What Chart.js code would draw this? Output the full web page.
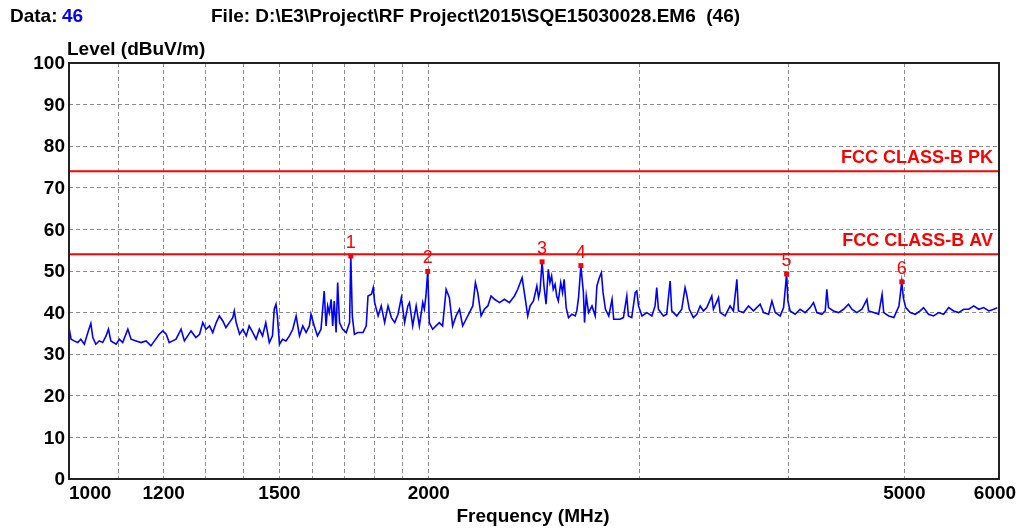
<!DOCTYPE html>
<html>
<head>
<meta charset="utf-8">
<script src="https://cdn.jsdelivr.net/npm/chart.js@4.4.1/dist/chart.umd.min.js"></script>
<style>
  body { margin: 0; background: #fff; }
  #wrap { width: 1019px; height: 529px; }
</style>
</head>
<body>
<div id="wrap"><canvas id="emc-chart" width="1019" height="529"></canvas></div>
<script>
// scan trace (MHz / dBuV/m)
var freq = [1000,1004,1010,1017,1023,1030,1037,1043,1047,1053,1060,1067,1074,1079,1084,1095,1102,1109,1120,1127,
  1138,1149,1160,1171,1179,1190,1198,1206,1213,1221,1229,1241,1249,1257,1265,1277,1286,1294,1302,1311,
  1319,1328,1336,1345,1353,1362,1371,1375,1380,1389,1398,1407,1415,1425,1434,1443,1452,1461,1471,1480,
  1485,1490,1494,1500,1509,1519,1529,1539,1549,1559,1569,1579,1589,1594,1604,1614,1625,1635,1641,1646,
  1651,1657,1662,1667,1673,1678,1684,1694,1706,1717,1721,1726,1733,1745,1762,1773,1779,1791,1797,1802,
  1814,1825,1837,1849,1861,1873,1885,1897,1909,1921,1927,1939,1952,1964,1977,1983,1989,1996,2002,2015,
  2028,2041,2054,2068,2081,2094,2108,2122,2135,2149,2163,2177,2188,2198,2212,2226,2241,2255,2270,2292,
  2314,2336,2359,2374,2394,2409,2420,2431,2447,2463,2471,2478,2488,2497,2507,2518,2526,2534,2542,2551,
  2559,2567,2579,2588,2596,2606,2618,2635,2652,2660,2669,2681,2686,2694,2700,2709,2721,2739,2756,2765,
  2778,2789,2798,2811,2829,2847,2856,2875,2891,2910,2929,2938,2957,2977,2986,2996,3016,3045,3074,3093,
  3103,3113,3143,3163,3184,3194,3225,3256,3277,3287,3304,3330,3352,3374,3395,3417,3450,3461,3495,3506,
  3540,3574,3597,3621,3632,3667,3703,3739,3787,3812,3849,3874,3899,3936,3962,3985,3995,4012,4051,4090,
  4130,4170,4197,4224,4265,4293,4306,4320,4362,4404,4447,4490,4519,4563,4607,4652,4667,4713,4758,4790,
  4805,4852,4900,4948,4975,4990,5013,5057,5106,5155,5188,5238,5289,5341,5393,5445,5498,5551,5605,5660,
  5715,5770,5826,5883,5940,5980];
var level = [36.4,33.6,33.2,32.8,33.6,32.4,35.2,37.4,34.0,32.4,33.2,32.8,34.4,36.0,33.2,32.4,33.6,32.8,36.0,33.6,
  33.2,32.8,33.2,32.0,33.2,34.8,35.6,34.8,32.8,33.2,33.6,36.0,33.2,34.4,35.6,34.0,34.8,37.6,36.0,36.8,
  35.2,37.6,39.2,38.0,36.4,37.6,38.8,40.4,37.6,34.8,36.0,34.4,36.8,35.2,33.6,36.0,34.4,37.6,32.8,34.4,
  40.8,42.0,39.2,32.4,33.6,33.2,34.4,36.0,39.2,34.4,36.8,35.2,36.8,39.6,36.8,34.4,36.0,45.2,36.8,41.6,
  40.0,43.2,36.8,42.8,35.2,47.2,37.6,36.0,35.2,37.6,53.6,39.2,34.8,35.2,35.2,36.8,44.0,44.4,46.0,42.4,
  39.2,41.6,37.6,41.6,38.8,37.6,39.6,43.6,37.6,41.6,42.4,36.8,41.6,36.8,42.4,40.8,44.0,49.9,37.6,36.0,
  36.8,37.6,36.8,45.6,43.6,36.8,39.2,40.8,36.8,38.4,40.0,41.6,47.2,44.8,39.2,40.8,41.6,44.0,43.2,42.4,
  43.2,42.4,44.0,45.6,48.4,43.2,39.2,41.6,42.8,46.4,43.6,45.2,52.2,46.4,42.0,50.4,47.2,48.8,45.6,46.8,
  44.0,42.8,47.2,44.8,48.0,41.2,38.8,39.6,39.2,40.4,43.6,51.3,48.8,44.8,37.6,44.0,40.0,41.6,39.2,46.4,
  48.4,49.6,44.8,40.8,39.2,43.2,38.4,38.4,38.4,38.8,44.0,39.2,38.8,44.8,45.2,41.6,39.2,40.0,39.2,41.6,
  46.0,40.8,39.2,39.6,47.6,40.4,39.2,40.8,46.0,44.4,40.8,38.8,39.6,41.6,40.4,41.2,44.0,40.8,43.6,40.0,
  39.2,41.6,40.4,48.0,40.4,40.0,41.6,40.4,42.0,40.0,39.6,42.8,40.0,39.2,41.2,49.3,42.8,40.4,39.6,40.8,
  40.0,41.2,42.4,40.0,39.6,40.4,45.6,41.2,40.4,40.0,40.8,42.0,40.8,40.0,40.8,43.2,40.4,40.0,39.6,44.4,
  40.0,39.2,38.8,41.6,47.4,43.6,41.2,40.0,39.6,40.4,41.2,39.6,39.2,40.0,39.6,41.2,40.4,40.0,40.8,40.8,
  41.6,40.8,41.2,40.4,40.8,41.2];

// limit lines
var limitFreq = [1000, 6000];
var pkLimit = [74, 74];
var avLimit = [54, 54];

// marked peaks
var markerFreq = [1721, 1996, 2488, 2681, 3985, 4975];
var markerLevel = [53.6, 49.9, 52.2, 51.3, 49.3, 47.4];
var markerNo = ["1", "2", "3", "4", "5", "6"];

// axes
var gridFreq = [1000,1100,1200,1300,1400,1500,1600,1700,1800,1900,2000,3000,4000,5000,6000];
var freqLabels = [1000, 1200, 1500, 2000, 5000, 6000];
var levelTicks = [0,10,20,30,40,50,60,70,80,90,100];

function pairs(xs, ys) {
  return xs.map(function (x, i) { return { x: x, y: ys[i] }; });
}

var FONT = '"Liberation Sans", Arial, sans-serif';

var decorations = {
  id: 'decorations',
  afterDraw: function (chart) {
    var ctx = chart.ctx, a = chart.chartArea;
    var xs = chart.scales.x, ys = chart.scales.y;
    ctx.save();

    // frame
    ctx.strokeStyle = '#222';
    ctx.lineWidth = 2;
    ctx.strokeRect(a.left, a.top, a.right - a.left, a.bottom - a.top);

    // y tick labels
    ctx.fillStyle = '#000';
    ctx.font = 'bold 19px ' + FONT;
    ctx.textAlign = 'right';
    ctx.textBaseline = 'middle';
    levelTicks.forEach(function (v) {
      ctx.fillText(String(v), a.left - 4, ys.getPixelForValue(v) + 1);
    });

    // x tick labels
    freqLabels.forEach(function (f, i) {
      var px = xs.getPixelForValue(f);
      if (i === 0) { ctx.textAlign = 'left'; px = a.left; }
      else { ctx.textAlign = 'center'; }
      if (i === freqLabels.length - 1) px -= 4;
      ctx.fillText(String(f), px, a.bottom + 15);
    });

    // axis titles
    ctx.textAlign = 'left';
    ctx.fillText('Level (dBuV/m)', 67, 50);
    ctx.textAlign = 'center';
    ctx.fillText('Frequency (MHz)', 533, 517);

    // header
    ctx.textAlign = 'left';
    ctx.fillText('Data:', 10, 17);
    ctx.fillStyle = '#0000ff';
    ctx.fillText('46', 62, 17);
    ctx.fillStyle = '#000';
    ctx.fillText('File: D:\\E3\\Project\\RF Project\\2015\\SQE15030028.EM6  (46)', 211, 17);

    // limit names
    ctx.font = 'bold 18px ' + FONT;
    ctx.fillStyle = '#ff0000';
    ctx.textAlign = 'right';
    ctx.textBaseline = 'bottom';
    ctx.fillText('FCC CLASS-B PK', a.right - 6, ys.getPixelForValue(pkLimit[1]) - 4);
    ctx.fillText('FCC CLASS-B AV', a.right - 6, ys.getPixelForValue(avLimit[1]) - 4);

    // marker numbers
    ctx.font = '18px ' + FONT;
    ctx.textAlign = 'center';
    markerNo.forEach(function (n, i) {
      ctx.fillText(n, xs.getPixelForValue(markerFreq[i]), ys.getPixelForValue(markerLevel[i]) - 4);
    });
    ctx.restore();
  }
};

new Chart(document.getElementById('emc-chart'), {
  type: 'scatter',
  data: {
    datasets: [{
      label: 'Scan',
      data: pairs(freq, level),
      showLine: true,
      borderColor: '#0000ff',
      borderWidth: 1.6,
      pointRadius: 0,
      tension: 0,
      order: 3
    }, {
      label: 'FCC CLASS-B PK',
      data: pairs(limitFreq, pkLimit),
      showLine: true,
      borderColor: '#ff0000',
      borderWidth: 2,
      pointRadius: 0,
      order: 2
    }, {
      label: 'FCC CLASS-B AV',
      data: pairs(limitFreq, avLimit),
      showLine: true,
      borderColor: '#ff0000',
      borderWidth: 2,
      pointRadius: 0,
      order: 2
    }, {
      label: 'Markers',
      data: pairs(markerFreq, markerLevel),
      showLine: false,
      pointStyle: 'rect',
      pointRadius: 3.5,
      backgroundColor: '#ff0000',
      borderColor: '#ff0000',
      borderWidth: 0,
      order: 1
    }]
  },
  options: {
    responsive: false,
    animation: false,
    layout: { padding: { left: 69, top: 63, right: 20, bottom: 50 } },
    plugins: {
      legend: { display: false },
      tooltip: { enabled: false }
    },
    scales: {
      x: {
        type: 'logarithmic',
        min: 1000,
        max: 6000,
        afterBuildTicks: function (scale) {
          scale.ticks = gridFreq.map(function (f) { return { value: f }; });
        },
        ticks: { display: false },
        grid: { color: '#8c8c8c', lineWidth: 1, drawTicks: false },
        border: { display: false, dash: [4, 3] }
      },
      y: {
        min: 0,
        max: 100,
        ticks: { display: false, stepSize: 10 },
        grid: { color: '#8c8c8c', lineWidth: 1, drawTicks: false },
        border: { display: false, dash: [4, 3] }
      }
    }
  },
  plugins: [decorations]
});
</script>
</body>
</html>
